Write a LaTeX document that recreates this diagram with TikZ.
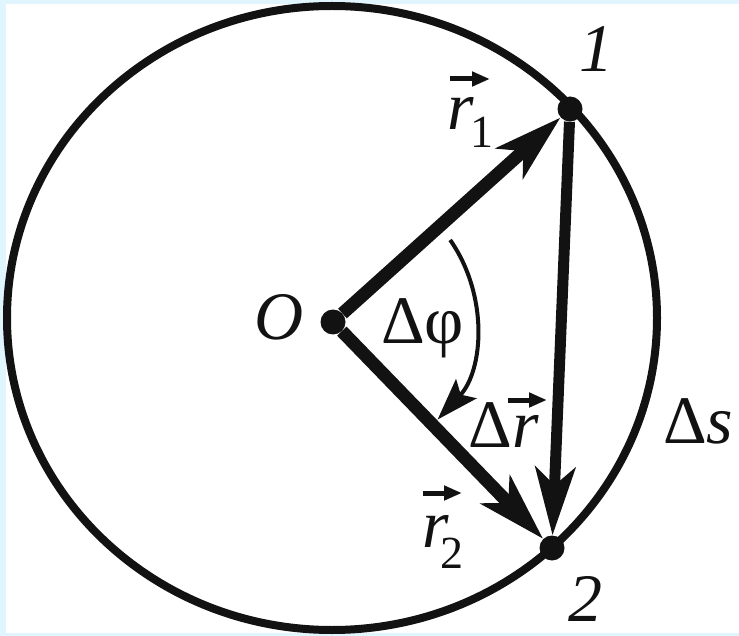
\documentclass[tikz,border=0pt]{standalone}
\usepackage{fontspec}
\setmainfont{LiberationSerif}[Extension=.ttf,UprightFont=*-Regular,ItalicFont=*-Italic,BoldFont=*-Bold,BoldItalicFont=*-BoldItalic]
\usetikzlibrary{arrows.meta,calc}
\begin{document}
\begin{tikzpicture}[x=1pt,y=-1pt,
  ink/.style={draw=black!93},
  dotnode/.style={circle,fill=black!93,inner sep=0pt,minimum size=25pt},
  vec/.style={ink,line width=13pt,-{Stealth[length=68pt,width=40pt,inset=18pt]}},
  dvec/.style={ink,line width=11pt,-{Stealth[length=68pt,width=40pt,inset=18pt]}},
  angarrow/.style={ink,line width=4pt,-{Stealth[length=42pt,width=28pt,inset=8pt]}},
  accent/.style={ink,line width=5pt,-{Triangle[length=18pt,width=14pt]}},
  lbl/.style={inner sep=0pt,text=black!93,font=\rmfamily\fontsize{68}{72}\selectfont}
]
\useasboundingbox (0,0) rectangle (739,636);
\fill[cyan!12!white] (0,0) rectangle (739,636);
\fill[white] (6,4) rectangle (739,633);
% circle
\draw[ink,line width=8pt] (332,318) ellipse [x radius=325, y radius=312];
% points
\node[dotnode] (O) at (333,322) {};
\node[dotnode] (P1) at (570,109) {};
\node[dotnode] (P2) at (552,548) {};
% vectors
\draw[vec] (O) -- (P1);
\draw[vec] (O) -- (P2);
\draw[dvec] (P1) -- (P2);
% angle arrow
\coordinate (A0) at ($(O)+(-35:143)$);
\draw[angarrow] (A0) arc[start angle=-35, end angle=43, radius=143];
% labels
\node[lbl,anchor=base] (L1) at (596,72) {\itshape 1};
\node[lbl,anchor=base] (L2) at (585,621) {\itshape 2};
\node[lbl,anchor=base] (LO) at (279,339) {\itshape O};
\node[lbl,anchor=base west] (Lphi) at (381,343) {Δφ};
\node[lbl,anchor=base west] (Ldr) at (468,447) {Δ\kern1pt\itshape r};
\node[lbl,anchor=base west] (Lds) at (663,443) {Δ\itshape s};
\node[lbl,anchor=base west] (Lr1) at (447,130) {\itshape r\kern-3pt\raisebox{-18pt}{\upshape\fontsize{46}{50}\selectfont 1}};
\node[lbl,anchor=base west] (Lr2) at (422,547) {\itshape r\kern-8pt\raisebox{-21pt}{\upshape\fontsize{46}{50}\selectfont 2}};
% vector accents
\draw[accent] ($(Lr1.base west)+(3,-51)$) -- ($(Lr1.base west)+(43,-51)$);
\draw[accent] ($(Lr2.base west)+(1,-54)$) -- ($(Lr2.base west)+(40,-54)$);
\draw[accent] ($(Ldr.base west)+(40,-47)$) -- ($(Ldr.base west)+(79,-47)$);
\end{tikzpicture}
\end{document}
